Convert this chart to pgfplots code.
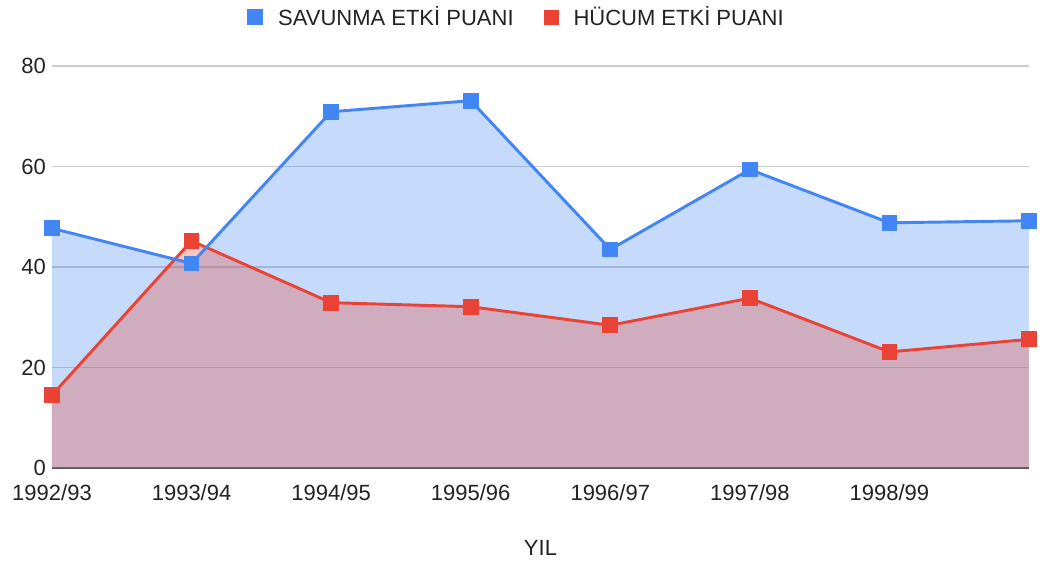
\documentclass[border=0pt]{standalone}
\usepackage{pgfplots}
\pgfplotsset{compat=1.18}
\usepackage{fontspec}
\setmainfont{Liberation Sans}

\definecolor{gblue}{HTML}{4285F4}
\definecolor{gred}{HTML}{EA4335}
\definecolor{txt}{HTML}{222222}

\begin{document}
\begin{tikzpicture}
\useasboundingbox (-39pt,-71.25pt) rectangle (743.25pt,351pt);
\begin{axis}[scale only axis, width=732.75pt, height=301.5pt,
  xmin=0, xmax=7, ymin=0, ymax=80,
  xtick={0,...,6}, xticklabels={1992/93,1993/94,1994/95,1995/96,1996/97,1997/98,1998/99},
  ytick={0,20,...,80},
  major tick length=0pt,
  axis line style={draw=none},
  ymajorgrids, grid style={black!20, line width=0.8pt},
  extra y ticks={0}, extra y tick labels={},
  extra y tick style={grid style={black!65, line width=1.2pt}},
  tick label style={font=\fontsize{16.5}{18}\selectfont, text=txt},
  /pgf/number format/assume math mode=true,
  yticklabel style={xshift=-1pt},
  xticklabel style={yshift=-9pt},
  xlabel={YIL},
  xlabel style={at={(rel axis cs:0.5,0)}, anchor=center, yshift=-60pt, font=\fontsize{16.5}{18}\selectfont, text=txt},
  legend columns=2,
  legend style={at={(rel axis cs:0.4754,1.122)}, anchor=center, draw=none, fill=none,
    font=\fontsize{16.5}{18}\selectfont, text=txt,
    /tikz/every odd column/.append style={column sep=9pt},
    /tikz/every even column/.append style={column sep=21pt}},
  legend image code/.code={\fill (0pt,-5.25pt) rectangle (10.5pt,5.25pt);},
]
\addplot[fill=gblue, fill opacity=0.3, draw=none, forget plot] coordinates {
  (0,47.7) (1,40.7) (2,70.9) (3,73.1) (4,43.5) (5,59.4) (6,48.8) (7,49.2)} \closedcycle;
\addplot[fill=gred, fill opacity=0.3, draw=none, forget plot] coordinates {
  (0,14.5) (1,45.2) (2,32.9) (3,32.1) (4,28.4) (5,33.8) (6,23.1) (7,25.6)} \closedcycle;
\addplot[color=gred, line width=2.2pt, mark=square*, mark size=4.8pt, forget plot] coordinates {
  (0,14.5) (1,45.2) (2,32.9) (3,32.1) (4,28.4) (5,33.8) (6,23.1) (7,25.6)};
\addplot[color=gblue, line width=2.2pt, mark=square*, mark size=4.8pt] coordinates {
  (0,47.7) (1,40.7) (2,70.9) (3,73.1) (4,43.5) (5,59.4) (6,48.8) (7,49.2)};
\addlegendentry{SAVUNMA ETKİ PUANI}
\addlegendimage{color=gred}
\addlegendentry{HÜCUM ETKİ PUANI}
\end{axis}
\end{tikzpicture}
\end{document}
